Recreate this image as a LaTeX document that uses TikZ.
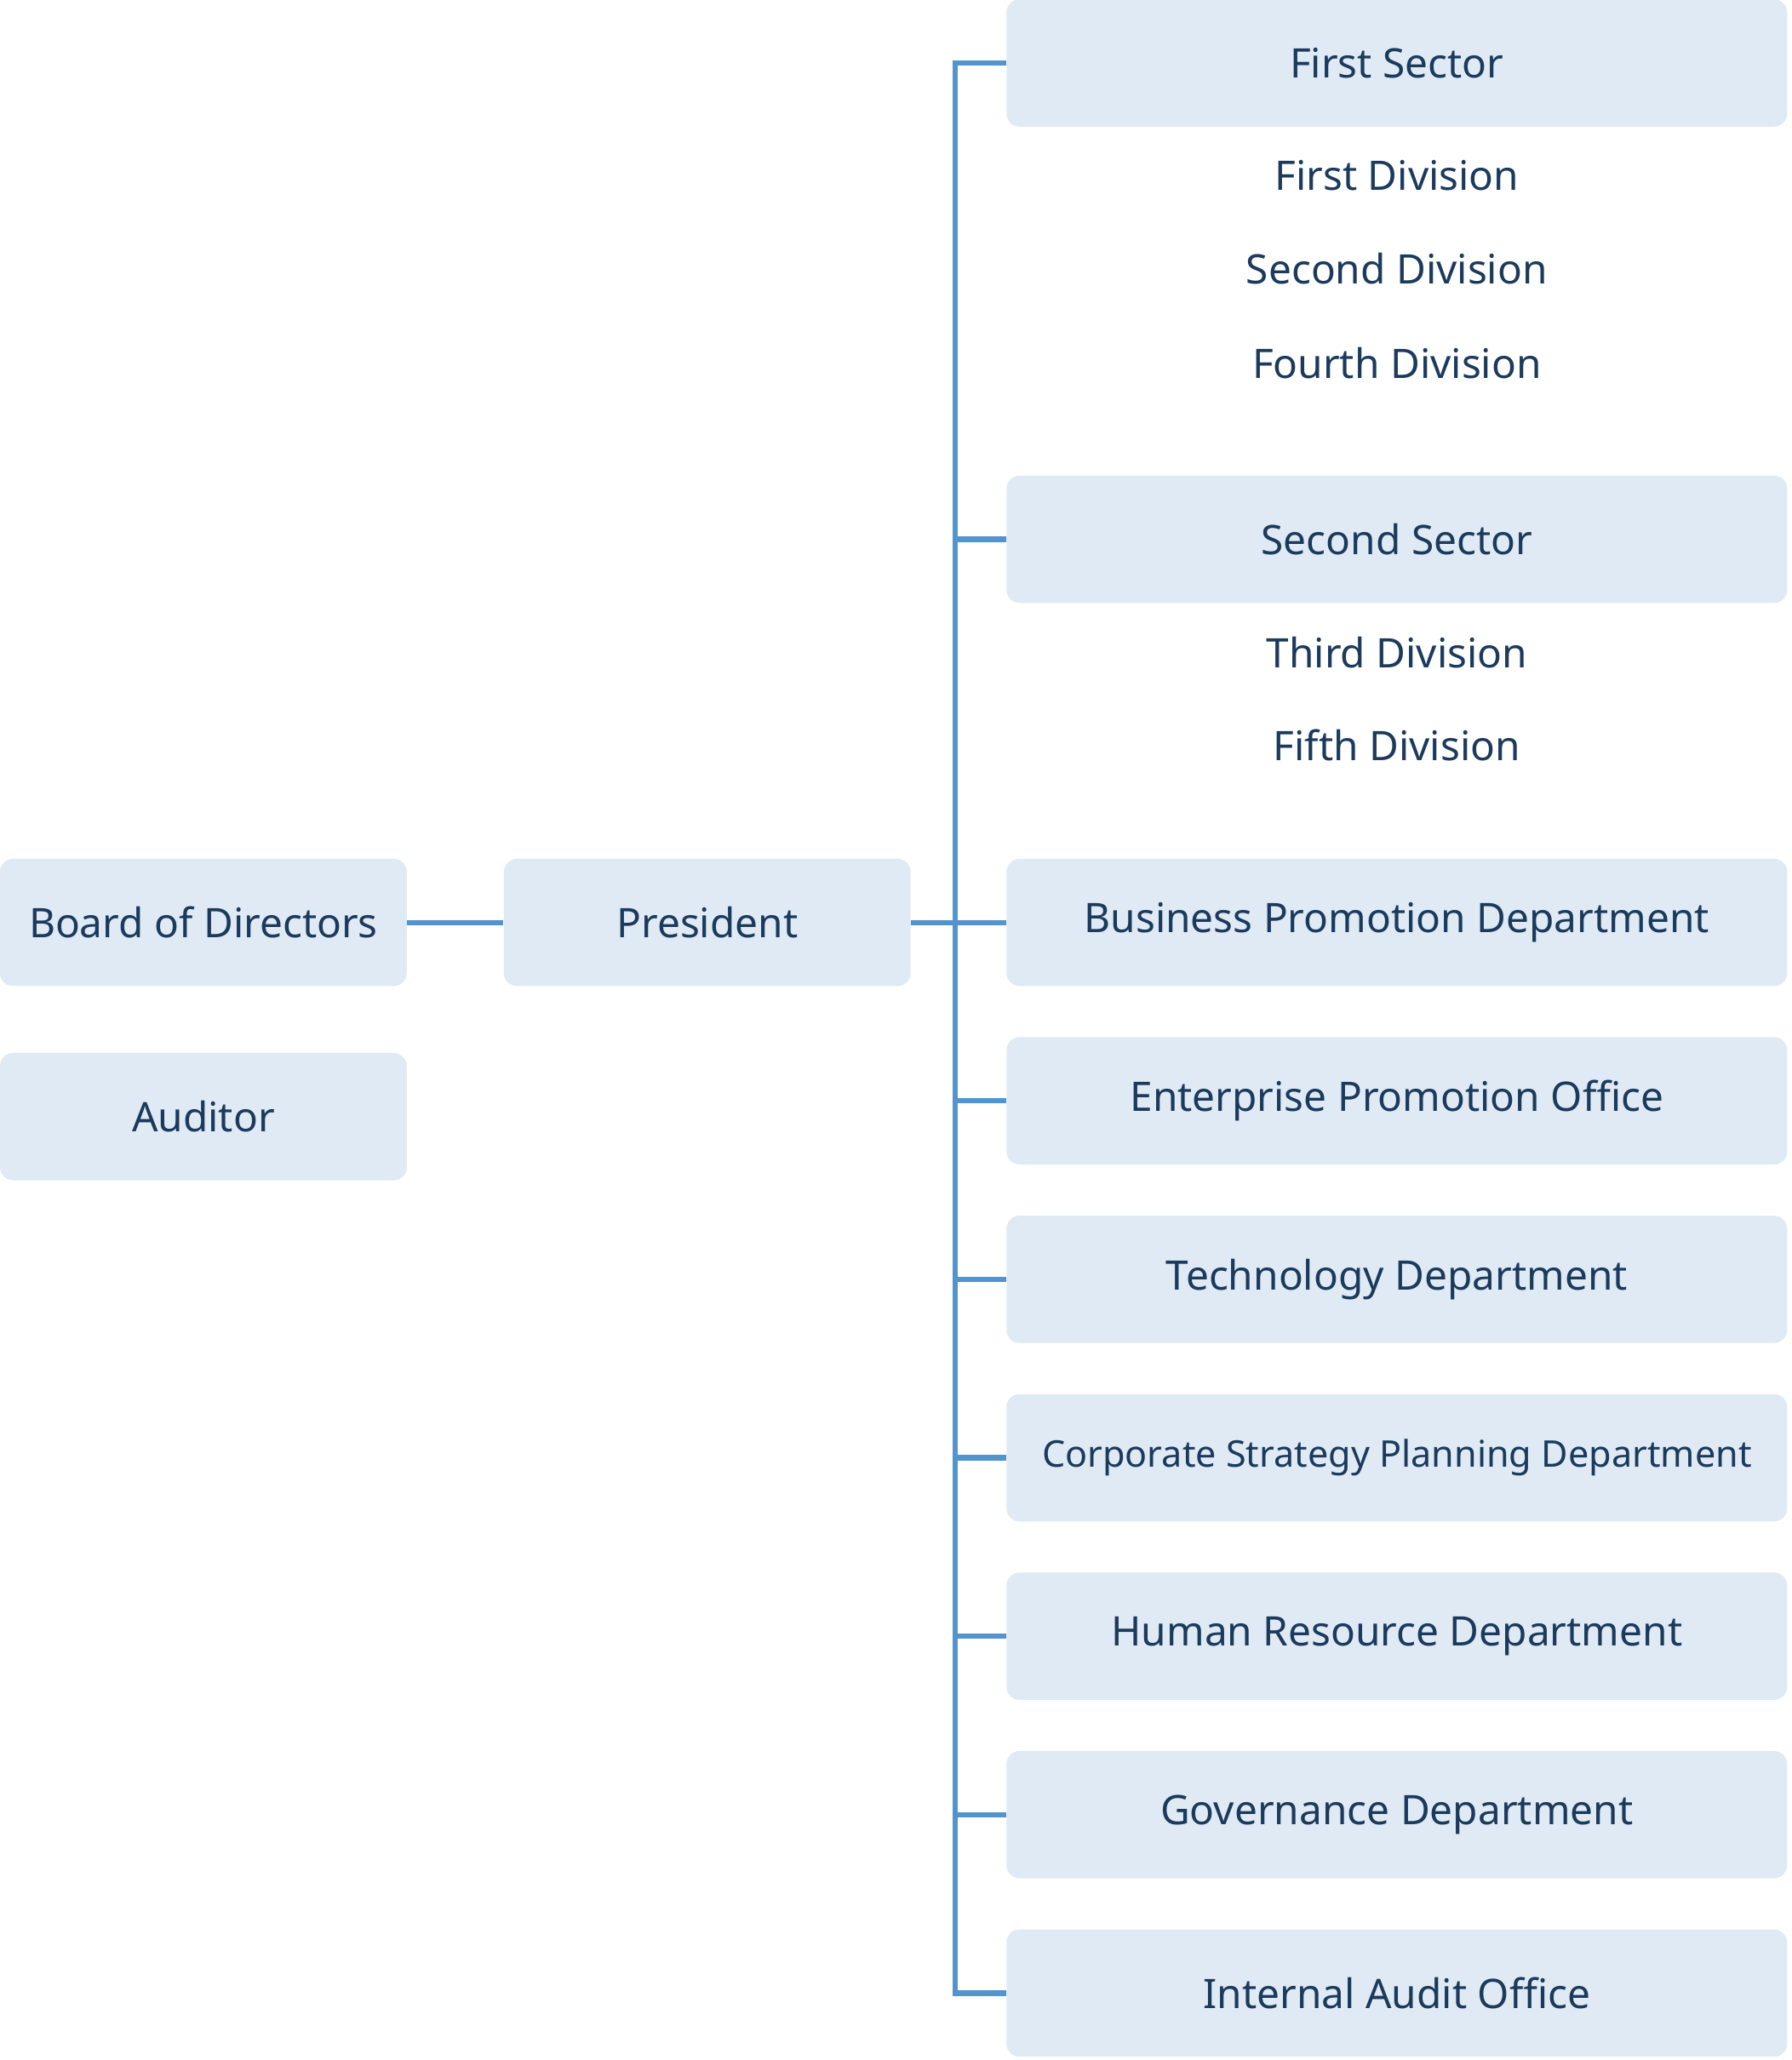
\documentclass[tikz,border=0pt]{standalone}
\usepackage{fontspec}
\setmainfont{Noto Sans}
\definecolor{boxfill}{HTML}{DFEAF4}
\definecolor{txt}{HTML}{1B3A5C}
\definecolor{ln}{HTML}{5494CC}
\begin{document}
\begin{tikzpicture}[x=0.5pt,y=-0.5pt,
  box/.style={fill=boxfill,rounded corners=5pt,text=txt,font=\fontsize{15.5}{18}\selectfont,minimum height=48.5pt,inner sep=0pt,anchor=center},
  wide/.style={box,minimum width=297.5pt},
  small/.style={box,minimum width=155pt},
  lbl/.style={text=txt,font=\fontsize{15.5}{18}\selectfont},
  conn/.style={draw=ln,line width=2pt}]
\useasboundingbox (0,0) rectangle (1365,1570);
\node[small] (bod) at (155,703) {Board of Directors};
\node[small] (aud) at (155,851) {Auditor};
\node[small] (pre) at (539,703) {President};
\node[wide] (fs) at (1064.5,48) {First Sector};
\node[lbl] (d1) at (1064.5,134) {First Division};
\node[lbl] (d2) at (1064.5,205) {Second Division};
\node[lbl] (d4) at (1064.5,277) {Fourth Division};
\node[wide] (ss) at (1064.5,411) {Second Sector};
\node[lbl] (d3) at (1064.5,497) {Third Division};
\node[lbl] (d5) at (1064.5,568) {Fifth Division};
\node[wide] (bp) at (1064.5,703) {Business Promotion Department};
\node[wide] (ep) at (1064.5,839) {Enterprise Promotion Office};
\node[wide] (td) at (1064.5,975) {Technology Department};
\node[wide,font=\fontsize{14}{17}\selectfont] (cs) at (1064.5,1111) {Corporate Strategy Planning Department};
\node[wide] (hr) at (1064.5,1247) {Human Resource Department};
\node[wide] (gd) at (1064.5,1383) {Governance Department};
\node[wide] (ia) at (1064.5,1519) {Internal Audit Office};
\coordinate (ttop) at (728,48);
\coordinate (tbot) at (728,1519);
\coordinate (tp) at (728,703);
\draw[conn] (bod.east) -- (pre.west);
\draw[conn] (pre.east) -- (tp);
\draw[conn] (fs.west) -- (ttop) -- (tbot) -- (ia.west);
\foreach \n in {ss,bp,ep,td,cs,hr,gd}{
  \draw[conn] (\n.west) -- (ttop |- \n.west);
}
\end{tikzpicture}
\end{document}
